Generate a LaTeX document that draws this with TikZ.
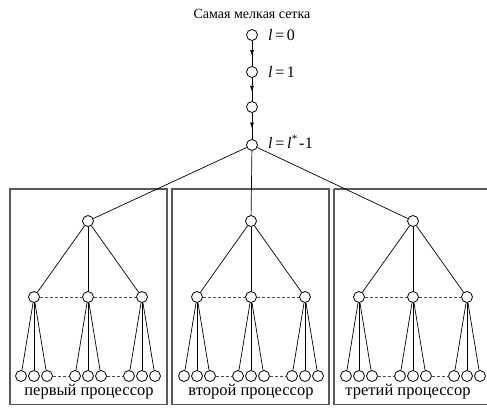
\documentclass[tikz,border=0pt]{standalone}
\usepackage{fontspec}
\setmainfont{Liberation Serif}
\usetikzlibrary{arrows.meta,decorations.markings}
\begin{document}
\begin{tikzpicture}[x=1pt,y=-1pt,
  nd/.style={circle,draw,line width=0.8pt,minimum size=11pt,inner sep=0pt,fill=white},
  ed/.style={line width=0.7pt},
  dl/.style={line width=0.6pt,densely dashed,draw=black!70},
  bx/.style={line width=1.2pt,draw=black!65},
  midarrow/.style={line width=0.7pt,decoration={markings,mark=at position 0.6 with {\arrow{Latex[length=6pt,width=4pt]}}},postaction={decorate}},
  lab/.style={anchor=west,font=\fontsize{16}{16}\selectfont,inner sep=0pt},
  tlab/.style={font=\fontsize{14}{14}\selectfont,inner sep=0pt},
  plab/.style={font=\fontsize{16.5}{16.5}\selectfont,inner sep=0pt}]
\useasboundingbox (0,0) rectangle (487,408);
% boxes
\draw[bx] (10,189) rectangle (167,404.5);
\draw[bx] (172,189) rectangle (329,404.5);
\draw[bx] (334,189) -- (488,189);
\draw[bx] (334,189) -- (334,404.5) -- (488,404.5);
% title
\node[tlab] (title) at (252,14) {Самая мелкая сетка};
% chain
\node[nd] (c0) at (252,35) {};
\node[nd] (c1) at (252,72) {};
\node[nd] (c2) at (252,107) {};
\node[nd] (c3) at (252,145) {};
\draw[midarrow] (c0) -- (c1);
\draw[midarrow] (c1) -- (c2);
\draw[midarrow] (c2) -- (c3);
\node[lab] (l0) at (268,35) {\textit{l}\,=\,0};
\node[lab] (l1) at (268,72) {\textit{l}\,=\,1};
\node[lab] (l3) at (268,142) {\textit{l}\,=\,\textit{l}\kern0.5pt\textsuperscript{*}\kern1pt-\kern0.5pt1};
% trees
\foreach \t/\cx in {1/88,2/251,3/413}{
  \node[nd] (r\t) at (\cx,221) {};
  \draw[ed] (c3) -- (r\t);
  \foreach \m/\dx in {1/-54,2/0,3/54}{
    \node[nd] (m\t\m) at (\cx+\dx,297) {};
    \draw[ed] (r\t) -- (m\t\m);
    \foreach \k/\ex in {1/-13,2/0,3/13}{
      \node[nd] (f\t\m\k) at (\cx+\dx+\ex,376) {};
      \draw[ed] (m\t\m) -- (f\t\m\k);
    }
  }
  \draw[dl] (m\t1) -- (m\t2);
  \draw[dl] (m\t2) -- (m\t3);
  \draw[dl] (f\t13) -- (f\t21);
  \draw[dl] (f\t23) -- (f\t31);
}
\node[plab] (p1) at (89,392) {первый процессор};
\node[plab] (p2) at (251,392) {второй процессор};
\node[plab] (p3) at (408,392) {третий процессор};
\end{tikzpicture}
\end{document}
